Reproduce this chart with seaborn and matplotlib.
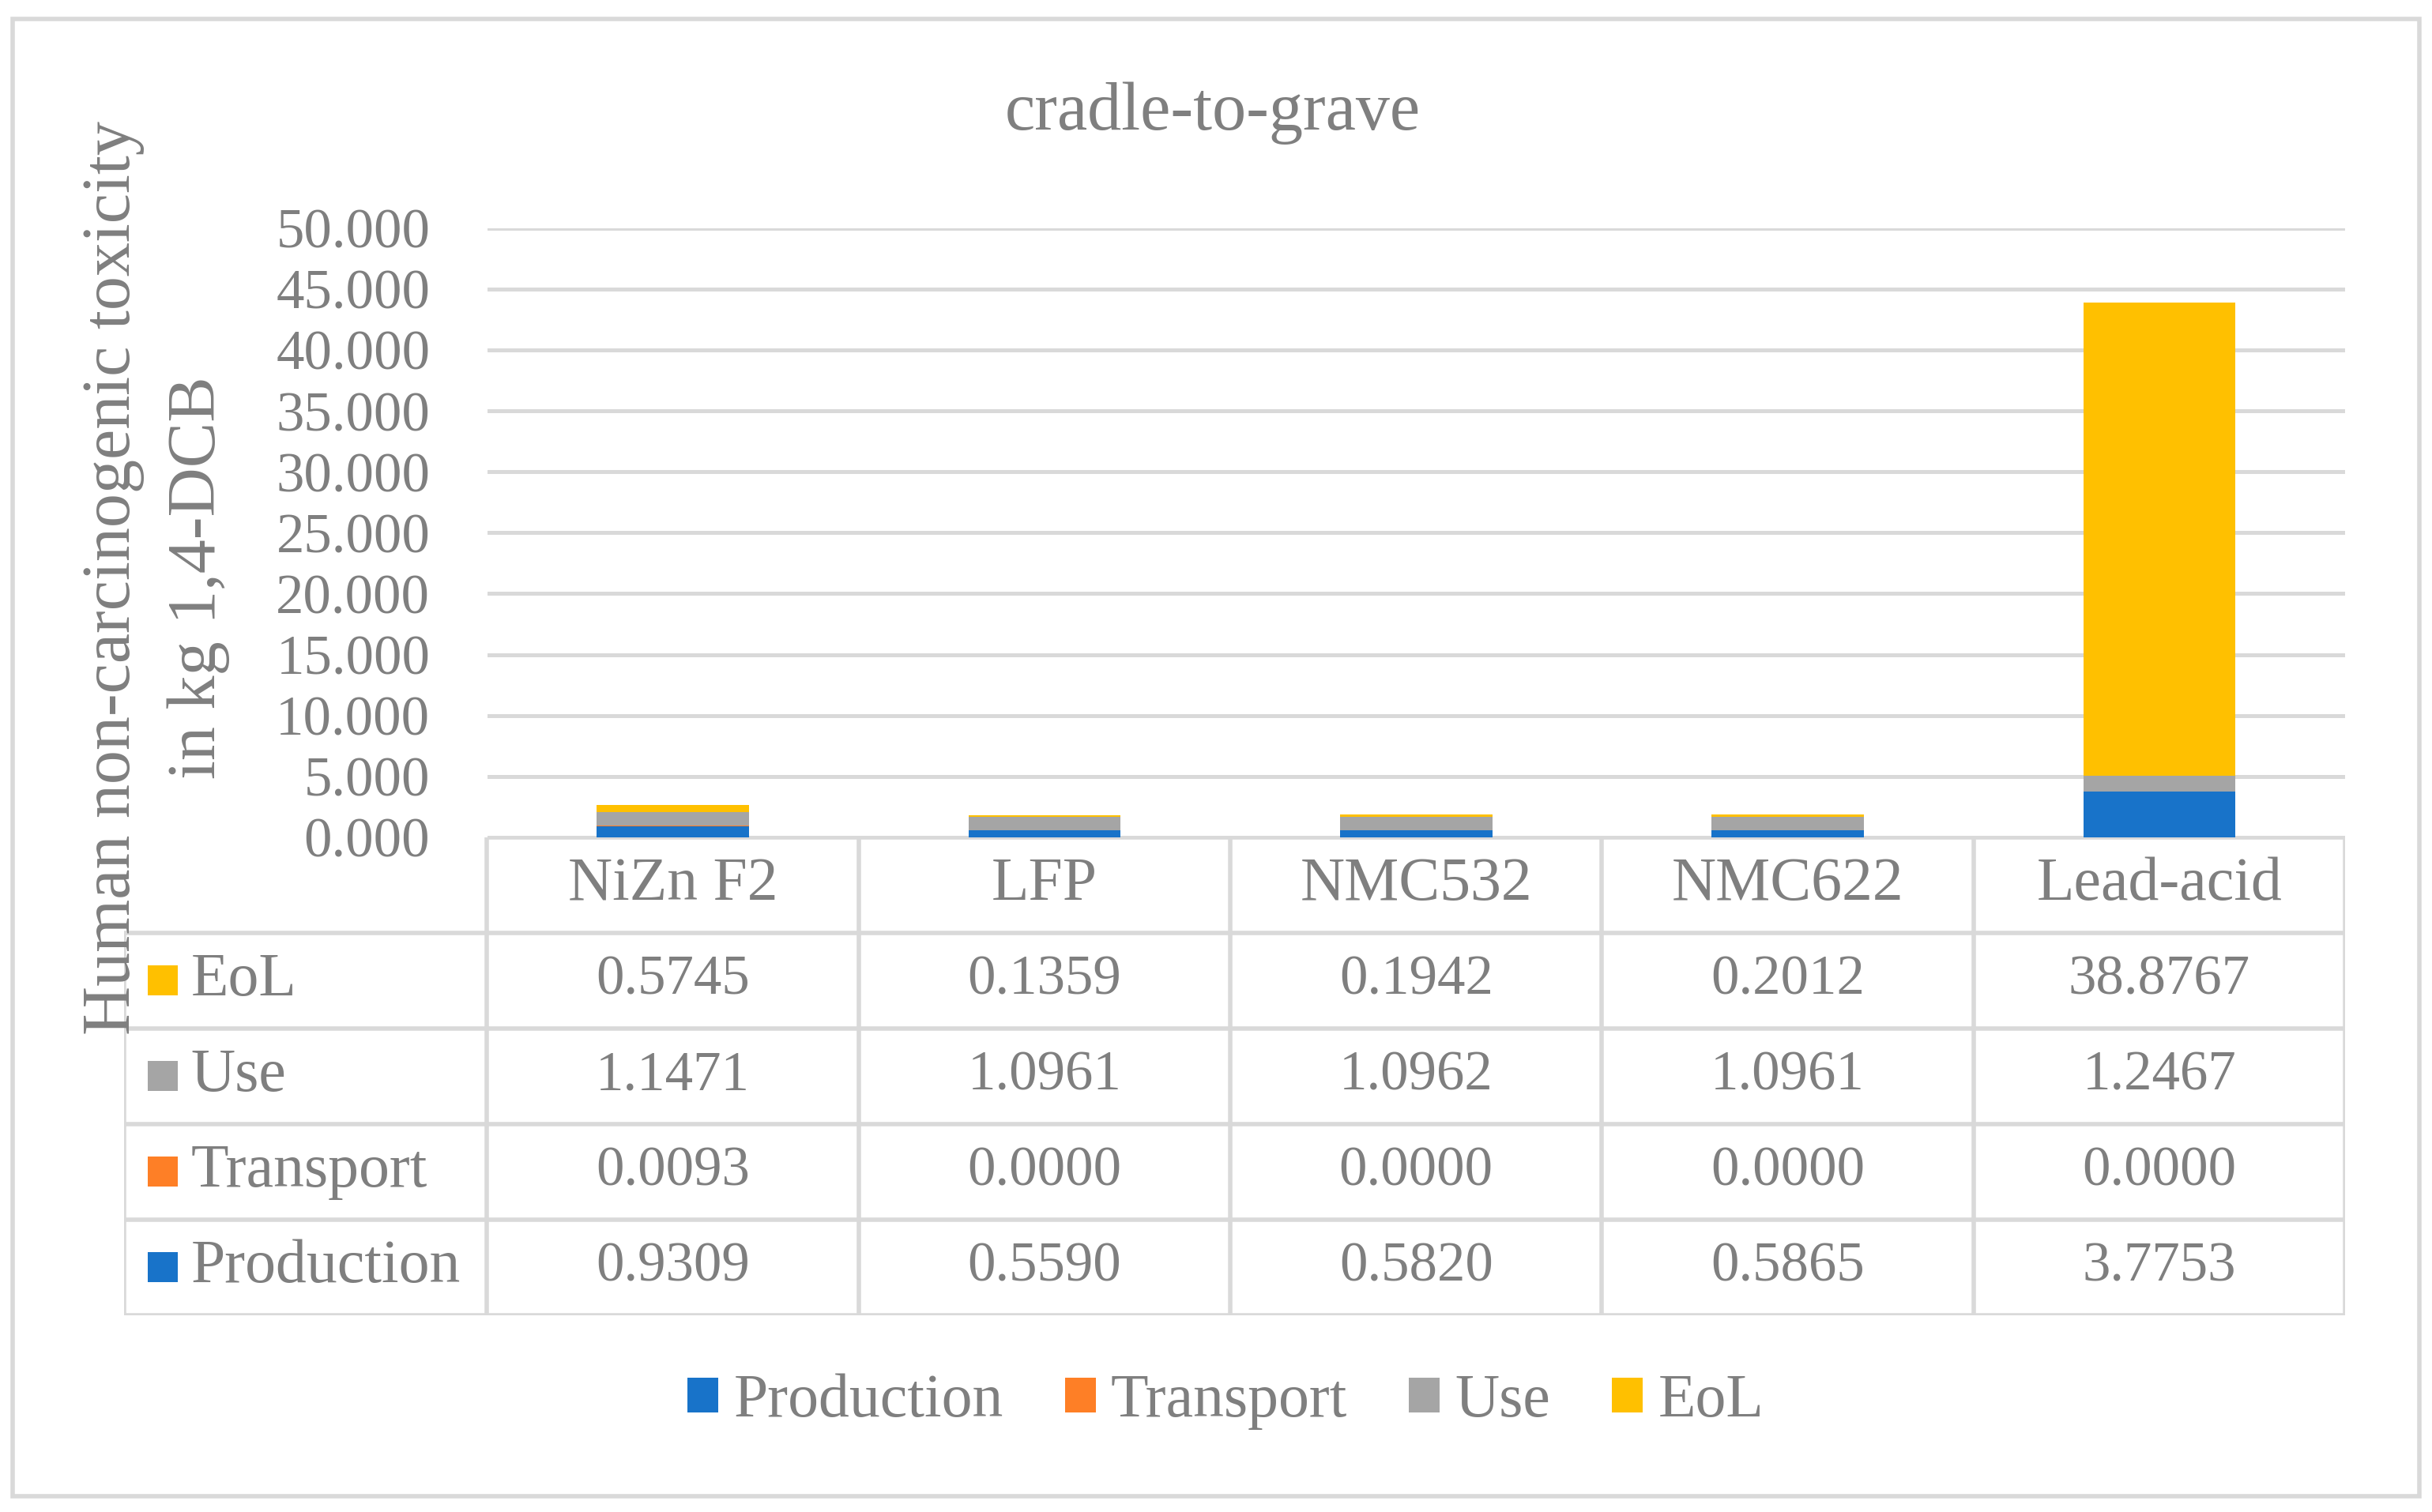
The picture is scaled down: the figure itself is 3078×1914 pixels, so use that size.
import numpy as np
import pandas as pd
import matplotlib
matplotlib.use("Agg")
import matplotlib.pyplot as plt
import seaborn as sns
from matplotlib.patches import Rectangle, Patch

# data
categories = ["NiZn F2", "LFP", "NMC532", "NMC622", "Lead-acid"]
production = [0.9309, 0.5590, 0.5820, 0.5865, 3.7753]
transport = [0.0093, 0.0000, 0.0000, 0.0000, 0.0000]
use = [1.1471, 1.0961, 1.0962, 1.0961, 1.2467]
eol = [0.5745, 0.1359, 0.1942, 0.2012, 38.8767]
components = ["Production", "Transport", "Use", "EoL"]
y_ticks = [0, 5, 10, 15, 20, 25, 30, 35, 40, 45, 50]

colors = {"Production": "#1873C9", "Transport": "#FE7F26", "Use": "#A5A5A5", "EoL": "#FFC000"}
text_col = "#7F7F7F"
line_col = "#D9D9D9"
num_fs = 25.5
word_fs = 28

sns.set_theme(style="white")
plt.rcParams['font.family'] = ['Liberation Serif', 'DejaVu Serif']

fig = plt.figure(figsize=(15.39, 9.57), dpi=200)

# outer border
fig.patches.append(Rectangle((0.0051, 0.0103), 0.9898, 0.9774, transform=fig.transFigure,
                             fill=False, edgecolor=line_col, lw=2.0))

# main bar axes
ax = fig.add_axes([0.2003, 0.4462, 0.9643 - 0.2003, 0.8492 - 0.4462])
series = {"Production": production, "Transport": transport, "Use": use, "EoL": eol}
bottom = np.zeros(len(categories))
for comp in components:
    vals = np.array(series[comp])
    sns.barplot(x=categories, y=vals, bottom=bottom, color=colors[comp], saturation=1,
                width=0.41, errorbar=None, edgecolor="none", linewidth=0, ax=ax)
    bottom = bottom + vals

ax.set_xlim(-0.5, 4.5)
ax.set_ylim(0, 50)
ax.set_yticks(y_ticks)
ax.set_yticklabels([f"{v:.3f}" for v in y_ticks], color=text_col, fontsize=num_fs)
ax.tick_params(axis="y", length=0, pad=26)
ax.set_xticks([])
ax.set_xlabel("")
ax.set_ylabel("")
for s in ax.spines.values():
    s.set_visible(False)
ax.yaxis.grid(True, color=line_col, lw=1.8)
ax.set_axisbelow(True)

# data table below
tax = fig.add_axes([0.0510, 0.1303, 0.9643 - 0.0510, 0.4462 - 0.1303])
left = -0.5 - 234 / 239.6
tax.set_xlim(left, 4.5)
tax.set_ylim(5, 0)
tax.axis("off")
tlw = 2.0
tax.hlines(0, -0.5, 4.5, color=line_col, lw=tlw)
for r in range(1, 6):
    tax.hlines(r, left, 4.5, color=line_col, lw=tlw)
tax.vlines(left, 1, 5, color=line_col, lw=tlw)
for c in range(6):
    tax.vlines(c - 0.5, 0, 5, color=line_col, lw=tlw)

for i, cat in enumerate(categories):
    tax.text(i, 0.5, cat, ha="center", va="center", color=text_col, fontsize=word_fs)

row_order = ["EoL", "Use", "Transport", "Production"]
for r, comp in enumerate(row_order, start=1):
    tax.scatter([left + 0.105], [r + 0.5], marker="s", s=190, color=colors[comp],
                linewidths=0, clip_on=False)
    tax.text(left + 0.18, r + 0.5, comp, ha="left", va="center", color=text_col, fontsize=word_fs)
    for i, v in enumerate(series[comp]):
        tax.text(i, r + 0.5, f"{v:.4f}", ha="center", va="center", color=text_col, fontsize=num_fs)

# title and y label (two lines, drawn separately)
fig.text(0.4987, 0.925, "cradle-to-grave", ha="center", va="center", color=text_col, fontsize=31)
fig.text(0.0465, 0.618, "Human non-carcinogenic toxicity", rotation=90,
         ha="center", va="center", color=text_col, fontsize=31)
fig.text(0.0815, 0.618, "in kg 1,4-DCB", rotation=90,
         ha="center", va="center", color=text_col, fontsize=31)

# legend
handles = [Patch(facecolor=colors[c], edgecolor="none", label=c) for c in components]
leg = fig.legend(handles=handles, loc="center", bbox_to_anchor=(0.504, 0.0728), ncol=4,
                 frameon=False, fontsize=word_fs, handlelength=0.5, handleheight=0.5,
                 handletextpad=0.25, columnspacing=1.0)
for t in leg.get_texts():
    t.set_color(text_col)

fig.savefig("out.png", dpi=200)
